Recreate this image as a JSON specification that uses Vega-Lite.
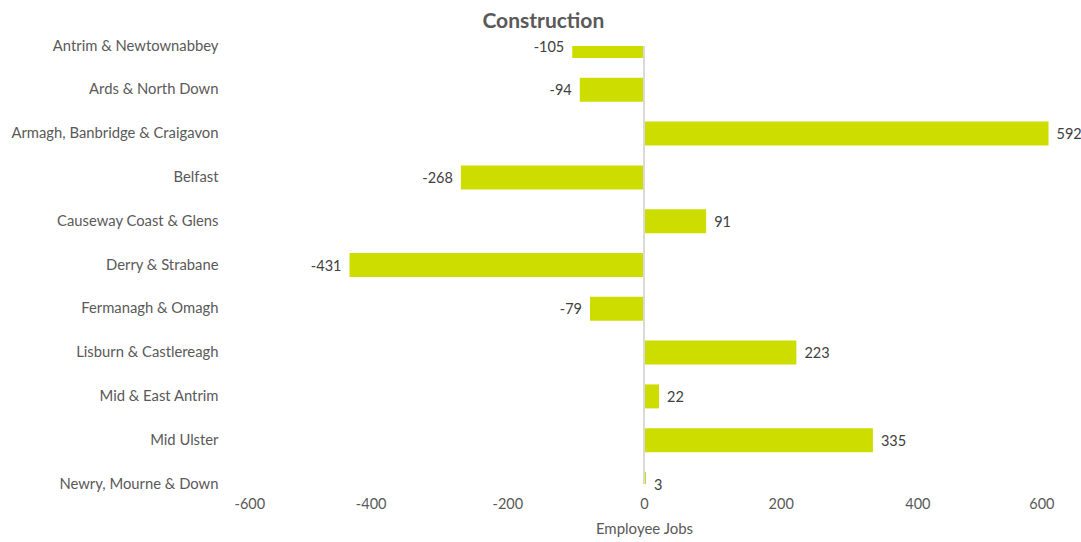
{
  "$schema": "https://vega.github.io/schema/vega-lite/v6.json",
  "autosize": {"type": "none"},
  "width": 820,
  "height": 438,
  "padding": {"left": 234, "top": 46, "right": 27, "bottom": 58},
  "background": "white",
  "title": {"text": "Construction", "fontSize": 21, "font": "Lato", "fontWeight": "bold", "color": "#595959", "anchor": "middle", "frame": "bounds", "offset": 6, "dx": -3},
  "config": {"view": {"stroke": null}, "font": "Lato"},
  "data": {"values": [
    {"region": "Antrim & Newtownabbey", "value": -105},
    {"region": "Ards & North Down", "value": -94},
    {"region": "Armagh, Banbridge & Craigavon", "value": 592},
    {"region": "Belfast", "value": -268},
    {"region": "Causeway Coast & Glens", "value": 91},
    {"region": "Derry & Strabane", "value": -431},
    {"region": "Fermanagh & Omagh", "value": -79},
    {"region": "Lisburn & Castlereagh", "value": 223},
    {"region": "Mid & East Antrim", "value": 22},
    {"region": "Mid Ulster", "value": 335},
    {"region": "Newry, Mourne & Down", "value": 3}
  ]},
  "encoding": {
    "y": {"field": "region", "type": "nominal", "sort": null,
      "scale": {"type": "point", "padding": 0},
      "axis": {"title": null, "domain": false, "ticks": false, "labelPadding": 16, "labelLimit": 400, "labelFontSize": 14.8, "labelColor": "#595959", "labelFont": "Lato"}},
    "x": {"field": "value", "type": "quantitative",
      "scale": {"domain": [-600, 600], "nice": false},
      "axis": {"title": "Employee Jobs", "values": [-600, -400, -200, 0, 200, 400, 600], "labelExpr": "replace(datum.label, '−', '-')", "grid": false, "domain": false, "ticks": false, "labelPadding": 13, "labelFontSize": 14.5, "labelColor": "#595959", "titleFontSize": 15, "titleColor": "#595959", "titleFontWeight": "normal", "titlePadding": 11, "labelFont": "Lato", "titleFont": "Lato"}}
  },
  "layer": [
    {"mark": {"type": "bar", "height": 24, "color": "#cedd00", "clip": true}},
    {"mark": {"type": "rule", "color": "#d9d9d9", "strokeWidth": 1.5}, "encoding": {"x": {"datum": 0}, "y": null}},
    {"transform": [{"filter": "datum.value < 0"}], "mark": {"type": "text", "align": "right", "dx": -8, "dy": 1.5, "fontSize": 14.5, "color": "#404040", "font": "Lato"}, "encoding": {"text": {"field": "value", "type": "nominal"}}},
    {"transform": [{"filter": "datum.value >= 0"}], "mark": {"type": "text", "align": "left", "dx": 8, "dy": 1.5, "fontSize": 14.5, "color": "#404040", "font": "Lato"}, "encoding": {"text": {"field": "value", "type": "nominal"}}}
  ]
}
